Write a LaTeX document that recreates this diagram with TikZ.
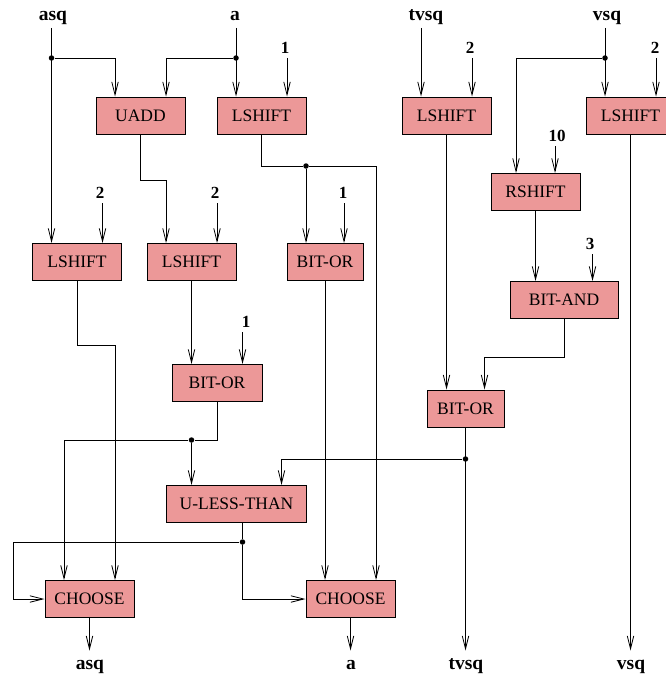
\documentclass[tikz,border=0pt]{standalone}
\usepackage{fontspec}
\setmainfont{Liberation Serif}
\usepackage{xcolor}
\usetikzlibrary{arrows.meta}
\definecolor{oppink}{RGB}{236,152,152}

\begin{document}
\begin{tikzpicture}[x=1pt, y=-1pt, line width=0.8pt,
   >={Straight Barb[length=13pt,width=6.5pt]},
   op/.style={draw, line width=1pt, fill=oppink, minimum width=89pt, minimum height=37pt,
              inner sep=0pt, font=\fontsize{17.5}{17.5}\selectfont},
   sig/.style={font=\bfseries\fontsize{19.5}{19.5}\selectfont, text height=9pt, text depth=4pt,
               inner sep=0pt, outer sep=3pt},
   sigout/.style={sig, outer sep=10pt},
   num/.style={font=\bfseries\fontsize{17}{17}\selectfont, text height=12pt, text depth=0pt,
               inner sep=0pt, outer sep=5pt},
   dot/.style={circle, fill, inner sep=0pt, minimum size=5.5pt}]
   \useasboundingbox (0,0) rectangle (666,677);

   % signals in
   \node[sig] (in-asq)  at (53,18.5)  {asq};
   \node[sig] (in-a)    at (235,18.5) {a};
   \node[sig] (in-tvsq) at (426,18.5) {tvsq};
   \node[sig] (in-vsq)  at (607,18.5) {vsq};

   % operators
   \node[op] (uadd)    at (140.5,115.5) {UADD};
   \node[op] (lsh-a)   at (261.5,115.5) {LSHIFT};
   \node[op] (lsh-t)   at (446.5,115.5) {LSHIFT};
   \node[op] (lsh-v)   at (630.5,115.5) {LSHIFT};
   \node[op] (rsh)     at (535.5,192)   {RSHIFT};
   \node[op] (lsh-asq) at (77,262)      {LSHIFT};
   \node[op] (lsh-u)   at (191.5,262)   {LSHIFT};
   \node[op, minimum width=76pt]  (or-a)  at (325,262)     {BIT-OR};
   \node[op, minimum width=108pt] (and-v) at (564,300)     {BIT-AND};
   \node[op, minimum width=90pt]  (or-u)  at (217,383)     {BIT-OR};
   \node[op, minimum width=77pt]  (or-v)  at (465.5,408.5) {BIT-OR};
   \node[op, minimum width=140pt] (less)  at (236.5,504)   {U-LESS-THAN};
   \node[op] (ch-asq)  at (89.5,599)    {CHOOSE};
   \node[op] (ch-a)    at (350.5,599)   {CHOOSE};

   % constants
   \node[num] (k-1a)   at (285,47)  {1};
   \node[num] (k-2t)   at (470,47)  {2};
   \node[num] (k-2v)   at (655,47)  {2};
   \node[num] (k-10)   at (557,135) {10};
   \node[num] (k-2asq) at (100,192) {2};
   \node[num] (k-2u)   at (215,192) {2};
   \node[num] (k-1or)  at (343,192) {1};
   \node[num] (k-3)    at (590,243) {3};
   \node[num] (k-1u)   at (246,321) {1};

   % signals out
   \node[sigout] (out-asq)  at (90,667)  {asq};
   \node[sigout] (out-a)    at (351,667) {a};
   \node[sigout] (out-tvsq) at (466,667) {tvsq};
   \node[sigout] (out-vsq)  at (631,667) {vsq};

   % input pins
   \foreach \n/\d in {uadd/25.5, lsh-a/25.5, lsh-t/25.5, lsh-v/25.5, rsh/19.5, lsh-asq/25.5,
                      lsh-u/25.5, or-a/19, and-v/28.5, or-u/25.5, or-v/19, less/45,
                      ch-asq/25.5, ch-a/25.5} {
      \coordinate (\n-1) at ([xshift=-\d pt]\n.north);
      \coordinate (\n-2) at ([xshift=\d pt]\n.north);
   }
   \coordinate (less-o) at ([xshift=6pt]less.south);

   % junctions
   \node[dot] (j-asq)  at (51.5,58)  {};
   \node[dot] (j-a)    at (236,58)   {};
   \node[dot] (j-v)    at (605,58)   {};
   \node[dot] (j-lsh)  at (306,166)  {};
   \node[dot] (j-or)   at (191.5,440) {};
   \node[dot] (j-orv)  at (465.5,459) {};
   \node[dot] (j-less) at (242.5,542) {};

   % top row
   \draw[->] (lsh-asq-1 |- in-asq.south) -- (lsh-asq-1);
   \draw[->] (j-asq) -| (uadd-1);
   \draw[->] (lsh-a-1 |- in-a.south) -- (lsh-a-1);
   \draw[->] (j-a) -| (uadd-2);
   \draw[->] (lsh-a-2 |- k-1a.south) -- (lsh-a-2);
   \draw[->] (lsh-t-1 |- in-tvsq.south) -- (lsh-t-1);
   \draw[->] (lsh-t-2 |- k-2t.south) -- (lsh-t-2);
   \draw[->] (lsh-v-1 |- in-vsq.south) -- (lsh-v-1);
   \draw[->] (lsh-v-2 |- k-2v.south) -- (lsh-v-2);
   \draw[->] (j-v) -| (rsh-1);
   \draw[->] (rsh-2 |- k-10.south) -- (rsh-2);

   % second row
   \draw[->] (uadd.south) -- ++(0,46) -| (lsh-u-1);
   \draw[->] (lsh-asq-2 |- k-2asq.south) -- (lsh-asq-2);
   \draw[->] (lsh-u-2 |- k-2u.south) -- (lsh-u-2);
   \draw[->] (lsh-a.south) |- (j-lsh) -- (or-a-1);
   \draw[->] (j-lsh) -| (ch-a-2);
   \draw[->] (or-a-2 |- k-1or.south) -- (or-a-2);
   \draw[->] (rsh.south) -- (and-v-1);
   \draw[->] (and-v-2 |- k-3.south) -- (and-v-2);

   % middle
   \draw[->] (lsh-asq.south) -- ++(0,64) -| (ch-asq-2);
   \draw[->] (lsh-u.south) -- (or-u-1);
   \draw[->] (or-u-2 |- k-1u.south) -- (or-u-2);
   \draw[->] (or-u.south) |- (j-or) -- (less-1);
   \draw[->] (j-or) -| (ch-asq-1);
   \draw[->] (or-a.south) -- (ch-a-1);
   \draw[->] (lsh-t.south) -- (or-v-1);
   \draw[->] (and-v.south) -- ++(0,38) -| (or-v-2);
   \draw[->] (or-v.south) -- (or-v.south |- out-tvsq.north);
   \draw[->] (j-orv) -| (less-2);
   \draw[->] (lsh-v.south) -- (lsh-v.south |- out-vsq.north);

   % bottom
   \draw (less-o) -- (j-less);
   \draw[->] (j-less) -- ++(-229.5,0) |- (ch-asq.west);
   \draw[->] (j-less) |- (ch-a.west);
   \draw[->] (ch-asq.south) -- (ch-asq.south |- out-asq.north);
   \draw[->] (ch-a.south) -- (ch-a.south |- out-a.north);
\end{tikzpicture}
\end{document}
